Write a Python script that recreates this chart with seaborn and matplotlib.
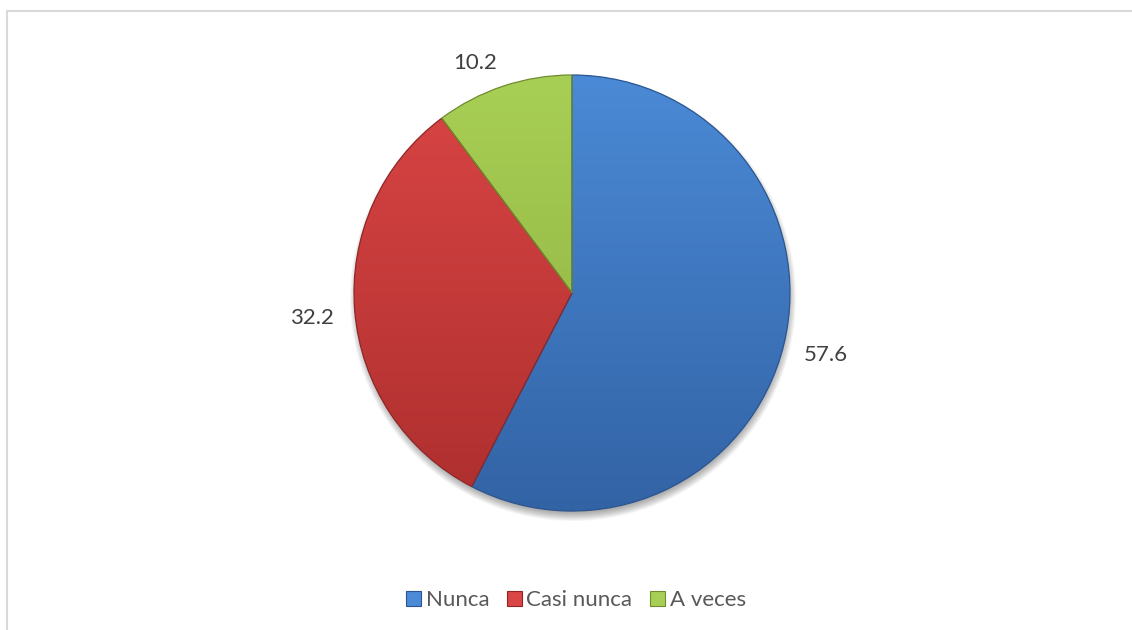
import numpy as np
import matplotlib
matplotlib.use("Agg")
import matplotlib.pyplot as plt
import seaborn as sns
from matplotlib.patches import Patch, Rectangle, Circle
from matplotlib.colors import to_rgb

sns.set_theme(style="white")
plt.rcParams["font.family"] = ["Lato", "DejaVu Sans"]

# Response categories and their percentages
categories = ["Nunca", "Casi nunca", "A veces"]
values = [57.6, 32.2, 10.2]
value_labels = ["57.6", "32.2", "10.2"]

# Light (top) and dark (bottom) tones for each slice
top_colors = ["#4b8ad6", "#da4545", "#a8cf55"]
bottom_colors = ["#3263a5", "#ad2f2e", "#8cad3f"]
edge_colors = ["#2a5590", "#8f2625", "#6f8c30"]

W, H = 1132, 630
fig = plt.figure(figsize=(W / 100, H / 100), dpi=100)
ax = fig.add_axes([0, 0, 1, 1])

cx, cy, r = 572, H - 293, 218

# soft drop shadow under the pie
for k in range(12):
    ax.add_patch(Circle((cx + 1, cy - 5), r + 5 - k * 0.9, color="black",
                        alpha=0.035, lw=0, zorder=0))

wedges, _ = ax.pie(values, center=(cx, cy), radius=r, startangle=90,
                   counterclock=False, colors=top_colors,
                   wedgeprops=dict(linewidth=0.9), frame=True)
ax.set_xlim(0, W)
ax.set_ylim(0, H)
ax.axis("off")

# vertical gradient fill for each wedge
n = 256
t = np.linspace(0, 1, n)[:, None]
for w, c1, c2, ec in zip(wedges, top_colors, bottom_colors, edge_colors):
    a, b = np.array(to_rgb(c1)), np.array(to_rgb(c2))
    img = (a * (1 - t) + b * t)[:, None, :].repeat(2, axis=1)
    im = ax.imshow(img, extent=(cx - r, cx + r, cy - r, cy + r),
                   origin="upper", aspect="auto", zorder=2,
                   interpolation="bilinear")
    im.set_clip_path(w)
    w.set_facecolor("none")
    w.set_edgecolor(ec)
    w.set_zorder(3)

# value labels outside each slice: the label box touches an anchor point
# a fixed gap beyond the rim on the slice's mid-angle ray
fs = 16
digit_h = fs * 100 / 72 * 0.72
gap = 21
for w, txt in zip(wedges, value_labels):
    ang = np.deg2rad((w.theta1 + w.theta2) / 2)
    c, s = np.cos(ang), np.sin(ang)
    axp, ayp = cx + (r + gap) * c, cy + (r + gap) * s
    ha = "left" if c > 0.1 else ("right" if c < -0.1 else "center")
    if s > 0.7:
        base = ayp
    elif s < -0.7:
        base = ayp - digit_h
    else:
        base = ayp - digit_h / 2
    ax.text(axp, base - 3, txt, ha=ha, va="baseline", fontsize=fs,
            color="#404040")

handles = [Patch(facecolor=c, edgecolor=e, linewidth=0.8)
           for c, e in zip(top_colors, edge_colors)]
fig.legend(handles, categories, loc="center", bbox_to_anchor=(576 / W, 1 - 600 / H),
           ncol=3, frameon=False, fontsize=fs, labelcolor="#595959",
           handlelength=0.65, handleheight=0.65, handletextpad=0.22,
           columnspacing=0.8)

# chart area border
fig.patches.append(Rectangle((6.5 / W, -0.1), 1.2, (H - 10.5) / H + 0.1,
                             transform=fig.transFigure, fill=False,
                             edgecolor="#d9d9d9", linewidth=1.5))

fig.savefig("out.png", dpi=100)
